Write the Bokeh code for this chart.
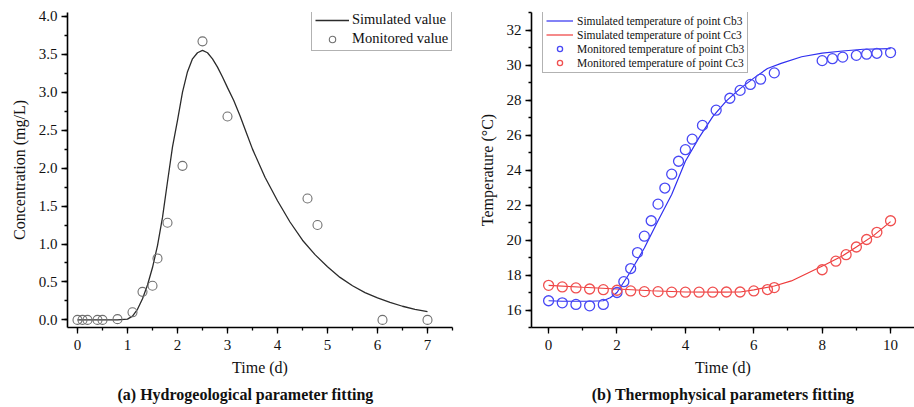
from bokeh.plotting import figure
from bokeh.layouts import row
from bokeh.models import (Range1d, SingleIntervalTicker, Legend, LegendItem,
                          PrintfTickFormatter)
from bokeh.embed import file_html
from bokeh.resources import INLINE

FONT = "Liberation Serif"

# (a) tracer concentration
conc_sim_t = [0, 0.5, 0.8, 1.0, 1.1, 1.2, 1.3, 1.4, 1.5, 1.6, 1.7, 1.8, 1.9, 2.0,
              2.1, 2.2, 2.3, 2.4, 2.5, 2.6, 2.7, 2.8, 2.9, 3.0, 3.125, 3.25, 3.375,
              3.5, 3.75, 4.0, 4.25, 4.5, 4.75, 5.0, 5.25, 5.5, 5.75, 6.0, 6.25,
              6.5, 6.75, 7.0]
conc_sim = [0, 0, 0, 0.01, 0.05, 0.14, 0.28, 0.46, 0.69, 0.98, 1.35, 1.82, 2.28, 2.63,
            3.0, 3.27, 3.44, 3.52, 3.55, 3.52, 3.44, 3.33, 3.2, 3.06, 2.89, 2.69, 2.47,
            2.25, 1.88, 1.57, 1.29, 1.05, 0.86, 0.7, 0.56, 0.45, 0.36, 0.29, 0.23,
            0.18, 0.14, 0.11]
conc_obs_t = [0, 0.1, 0.2, 0.4, 0.5, 0.8, 1.1, 1.3, 1.5, 1.6, 1.8, 2.1, 2.5, 3.0,
              4.6, 4.8, 6.1, 7.0]
conc_obs = [0, 0, 0, 0, 0, 0.01, 0.1, 0.37, 0.45, 0.81, 1.28, 2.03, 3.67, 2.68,
            1.6, 1.25, 0, 0]

# (b) temperatures at points Cb3 and Cc3
cb3_sim_t = [0, 0.4, 0.8, 1.2, 1.6, 1.8, 2.0, 2.2, 2.4, 2.8, 3.2, 3.6, 4.0, 4.4,
             4.8, 5.2, 5.6, 6.0, 6.4, 6.8, 7.4, 8.0, 8.6, 9.2, 10.0]
cb3_sim = [16.53, 16.5, 16.5, 16.5, 16.53, 16.7, 17.0, 17.6, 18.2, 19.54, 21.1, 22.6,
           24.5, 25.85, 27.05, 27.95, 28.65, 29.25, 29.8, 30.09, 30.47, 30.68, 30.8,
           30.9, 30.94]
cc3_sim_t = [0, 1, 2, 3, 4, 5, 5.6, 6.0, 6.6, 7.1, 7.6, 8.1, 8.6, 9.0, 9.5, 10.0]
cc3_sim = [17.41, 17.3, 17.2, 17.1, 17.03, 17.02, 17.03, 17.15, 17.37, 17.66, 18.13,
           18.6, 19.1, 19.6, 20.25, 21.05]
cb3_obs_t = [0, 0.4, 0.8, 1.2, 1.6, 2.0, 2.2, 2.4, 2.6, 2.8, 3.0, 3.2, 3.4, 3.6, 3.8,
             4.0, 4.2, 4.5, 4.9, 5.3, 5.6, 5.9, 6.2, 6.6, 8.0, 8.3, 8.6, 9.0, 9.3,
             9.6, 10.0]
cb3_obs = [16.53, 16.41, 16.32, 16.24, 16.32, 17.0, 17.62, 18.37, 19.28, 20.22, 21.1,
           22.05, 22.97, 23.76, 24.5, 25.16, 25.76, 26.55, 27.42, 28.1, 28.55, 28.89,
           29.19, 29.55, 30.25, 30.36, 30.45, 30.55, 30.62, 30.67, 30.71]
cc3_obs_t = [0, 0.4, 0.8, 1.2, 1.6, 2.0, 2.4, 2.8, 3.2, 3.6, 4.0, 4.4, 4.8, 5.2, 5.6,
             6.0, 6.4, 6.6, 8.0, 8.4, 8.7, 9.0, 9.3, 9.6, 10.0]
cc3_obs = [17.41, 17.32, 17.26, 17.2, 17.16, 17.13, 17.09, 17.05, 17.05, 17.02, 17.02,
           17.02, 17.02, 17.03, 17.03, 17.09, 17.17, 17.28, 18.3, 18.79, 19.16, 19.6,
           20.03, 20.44, 21.1]


def style(p, xlabel, ylabel, xint, yint):
    p.xaxis.ticker = SingleIntervalTicker(interval=xint, num_minor_ticks=2)
    p.yaxis.ticker = SingleIntervalTicker(interval=yint, num_minor_ticks=2)
    p.xaxis.axis_label = xlabel
    p.yaxis.axis_label = ylabel
    for ax in (p.xaxis, p.yaxis):
        ax.axis_line_width = 1.6
        ax.axis_line_color = "black"
        ax.major_tick_line_width = 1.3
        ax.minor_tick_line_width = 1.3
        ax.major_tick_line_color = "black"
        ax.minor_tick_line_color = "black"
        ax.major_tick_in = 0
        ax.major_tick_out = 6
        ax.minor_tick_in = 0
        ax.minor_tick_out = 3
        ax.major_label_text_font = FONT
        ax.major_label_text_font_size = "15px"
        ax.major_label_text_color = "#111111"
        ax.axis_label_text_font = FONT
        ax.axis_label_text_font_size = "16px"
        ax.axis_label_text_font_style = "normal"
        ax.axis_label_text_color = "#111111"
    p.xaxis.major_label_standoff = 6
    p.yaxis.major_label_standoff = 4
    p.xaxis.axis_label_standoff = 6
    p.yaxis.axis_label_standoff = 8
    p.grid.visible = False
    p.outline_line_color = None
    p.title.text_font = FONT
    p.title.text_font_size = "16px"
    p.title.text_font_style = "bold"
    p.title.text_color = "#111111"
    p.title.align = "center"


# ---- left panel ----
p1 = figure(width=460, height=407, output_backend="svg", toolbar_location=None,
            x_range=Range1d(-0.2, 7.5), y_range=Range1d(-0.1, 4.05),
            min_border_left=67, min_border_right=8, min_border_top=12,
            min_border_bottom=80, title="(a) Hydrogeological parameter fitting",
            title_location="below")
style(p1, "Time (d)", "Concentration (mg/L)", 1, 0.5)
p1.yaxis.formatter = PrintfTickFormatter(format="%.1f")
p1.title.align = "left"
p1.title.offset = 50

l1 = p1.line(conc_sim_t, conc_sim, line_color="#2b2b2b", line_width=1.3)
s1 = p1.scatter(conc_obs_t, conc_obs, marker="circle", size=9, fill_color=None,
                line_color="#707070", line_width=1.1)
leg1 = Legend(items=[LegendItem(label="Simulated value", renderers=[l1]),
                     LegendItem(label="Monitored value", renderers=[s1])],
              location=(244, 276))
leg1.label_text_font = FONT
leg1.label_text_font_size = "14.5px"
leg1.label_text_color = "#111111"
leg1.glyph_width = 34
leg1.glyph_height = 16
leg1.label_height = 16
leg1.label_standoff = 3
leg1.spacing = 2
leg1.padding = 3
leg1.margin = 0
leg1.border_line_color = "#666666"
leg1.border_line_width = 1
p1.add_layout(leg1, "center")

# ---- right panel ----
p2 = figure(width=454, height=407, output_backend="svg", toolbar_location=None,
            x_range=Range1d(-0.5, 10.7), y_range=Range1d(15.0, 33.0),
            min_border_left=71, min_border_right=0, min_border_top=10,
            min_border_bottom=80, title="(b) Thermophysical parameters fitting",
            title_location="below")
style(p2, "Time (d)", "Temperature (\u00b0C)", 2, 2)

BLUE = "#2f2ff0"
RED = "#ee3b3b"
l2 = p2.line(cb3_sim_t, cb3_sim, line_color=BLUE, line_width=1.2)
l3 = p2.line(cc3_sim_t, cc3_sim, line_color=RED, line_width=1.2)
s2 = p2.scatter(cb3_obs_t, cb3_obs, marker="circle", size=10, fill_color=None,
                line_color="#4848f5", line_width=1.3)
s3 = p2.scatter(cc3_obs_t, cc3_obs, marker="circle", size=10, fill_color=None,
                line_color="#f05050", line_width=1.3)
leg2 = Legend(items=[LegendItem(label="Simulated temperature of point Cb3", renderers=[l2]),
                     LegendItem(label="Simulated temperature of point Cc3", renderers=[l3]),
                     LegendItem(label="Monitored temperature of point Cb3", renderers=[s2]),
                     LegendItem(label="Monitored temperature of point Cc3", renderers=[s3])],
              location=(11, 254))
leg2.label_text_font = FONT
leg2.label_text_font_size = "11.5px"
leg2.label_text_color = "#111111"
leg2.glyph_width = 27
leg2.glyph_height = 13
leg2.label_height = 13
leg2.label_standoff = 4
leg2.spacing = 1
leg2.padding = 3
leg2.margin = 0
leg2.border_line_color = "#666666"
leg2.border_line_width = 1
p2.add_layout(leg2, "center")

layout = row(p1, p2)
open("out.html", "w").write(file_html(layout, INLINE))
